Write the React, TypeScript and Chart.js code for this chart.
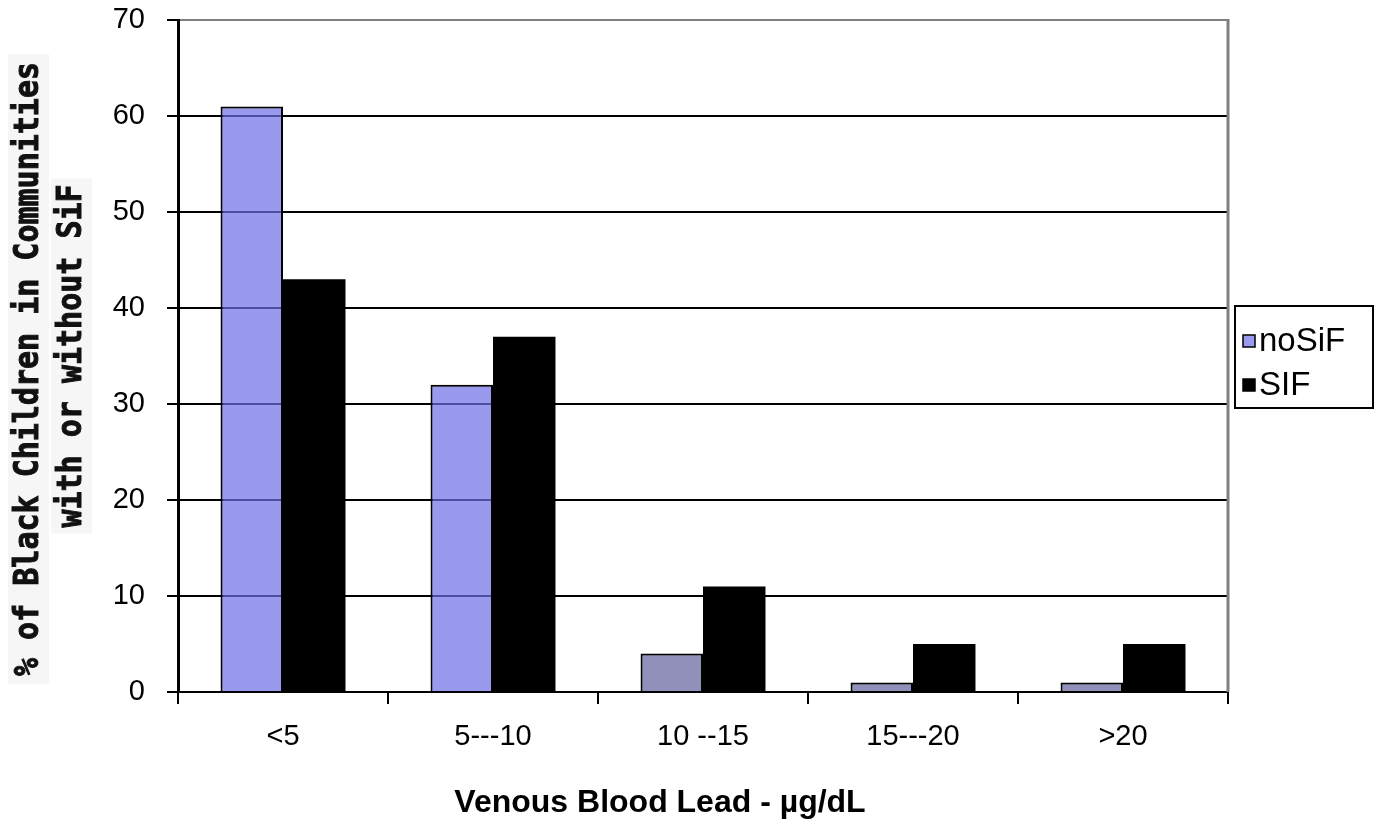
import { useEffect, useRef } from "react";
import { Chart, registerables } from "chart.js";

Chart.register(...registerables);

// Blood-lead bins and the share of children falling in each
const categories = ["<5", "5---10", "10 --15", "15---20", ">20"];
const noSiFValues = [61, 32, 4, 1, 1];
const sifValues = [43, 37, 11, 5, 5];
const seriesNames = ["noSiF", "SIF"];
const yTickValues = [0, 10, 20, 30, 40, 50, 60, 70];
const yTitleLines = ["% of Black Children in Communities", "with or without SiF"];
const xTitleText = "Venous Blood Lead - µg/dL";

const SANS = '"Liberation Sans", Arial, sans-serif';
const MONO = '"DejaVu Sans Mono", "Liberation Mono", monospace';

const NOSIF_LIGHT = "rgba(110,110,230,0.7)";
const NOSIF_DARK = "rgba(70,70,140,0.6)";
const NOSIF_SWATCH = "#9a9aee";

// Per-bar fill for the noSiF series: the low bins are shaded darker
const noSiFFills = noSiFValues.map((_, i) => (i < 2 ? NOSIF_LIGHT : NOSIF_DARK));

const framePlugin = {
  id: "frame",
  beforeDatasetsDraw(chart: any) {
    const { ctx, chartArea } = chart;
    ctx.save();
    ctx.strokeStyle = "#808080";
    ctx.lineWidth = 3;
    ctx.beginPath();
    ctx.moveTo(chartArea.right, chartArea.top - 1);
    ctx.lineTo(chartArea.right, chartArea.bottom);
    ctx.stroke();
    ctx.restore();
  },
};

// Two-line rotated axis title, each line on its own pale panel
const yTitlePlugin = {
  id: "yTitle",
  afterDraw(chart: any) {
    const { ctx } = chart;
    const boxes = [
      { cx: 28.5, cy: 369, w: 630, h: 41 },
      { cx: 71.5, cy: 356, w: 355, h: 41 },
    ];
    ctx.save();
    ctx.font = `bold 30px ${MONO}`;
    ctx.textAlign = "center";
    ctx.textBaseline = "middle";
    yTitleLines.forEach((line, i) => {
      const b = boxes[i];
      ctx.save();
      ctx.translate(b.cx, b.cy);
      ctx.rotate(-Math.PI / 2);
      ctx.fillStyle = "#f6f6f6";
      ctx.fillRect(-b.w / 2, -b.h / 2, b.w, b.h);
      // slightly taller, heavier glyphs for a blocky screen-font look
      ctx.scale(1, 1.12);
      ctx.fillStyle = "#111";
      ctx.strokeStyle = "#111";
      ctx.lineWidth = 0.9;
      ctx.fillText(line, 0, 1);
      ctx.strokeText(line, 0, 1);
      ctx.restore();
    });
    ctx.restore();
  },
};

const xTitlePlugin = {
  id: "xTitle",
  afterDraw(chart: any) {
    const { ctx } = chart;
    ctx.save();
    ctx.font = `bold 32px ${SANS}`;
    ctx.fillStyle = "#000";
    ctx.textAlign = "center";
    ctx.textBaseline = "middle";
    ctx.fillText(xTitleText, 660, 803);
    ctx.restore();
  },
};

const legendPlugin = {
  id: "boxLegend",
  afterDraw(chart: any) {
    const { ctx } = chart;
    const left = 1235;
    const top = 306;
    const width = 138;
    const height = 102;
    ctx.save();
    ctx.fillStyle = "#fff";
    ctx.fillRect(left, top, width, height);
    ctx.strokeStyle = "#000";
    ctx.lineWidth = 2;
    ctx.strokeRect(left, top, width, height);
    const fills = [NOSIF_SWATCH, "#000"];
    const rows = [top + 35, top + 79];
    ctx.font = `33px ${SANS}`;
    ctx.textBaseline = "middle";
    ctx.textAlign = "left";
    seriesNames.forEach((name, i) => {
      const y = rows[i];
      ctx.fillStyle = fills[i];
      ctx.fillRect(left + 8, y - 6, 12, 12);
      ctx.strokeStyle = "#000";
      ctx.lineWidth = 1.5;
      ctx.strokeRect(left + 8, y - 6, 12, 12);
      ctx.fillStyle = "#000";
      ctx.fillText(name, left + 24, y + 1);
    });
    ctx.restore();
  },
};

export default function App() {
  const canvasRef = useRef<HTMLCanvasElement | null>(null);

  useEffect(() => {
    const canvas = canvasRef.current;
    if (!canvas) return;
    const chart = new Chart(canvas, {
      type: "bar",
      data: {
        labels: categories,
        datasets: [
          {
            label: seriesNames[0],
            data: noSiFValues,
            backgroundColor: noSiFFills,
            borderColor: "#000",
            borderWidth: 2,
          },
          {
            label: seriesNames[1],
            data: sifValues,
            backgroundColor: "#000",
            borderColor: "#000",
            borderWidth: 0,
          },
        ],
      },
      options: {
        responsive: false,
        animation: false,
        devicePixelRatio: 1,
        layout: { padding: { top: 20, right: 153, bottom: 0, left: 0 } },
        datasets: {
          bar: { categoryPercentage: 0.595, barPercentage: 1 },
        },
        plugins: {
          legend: { display: false },
          tooltip: { enabled: false },
        },
        scales: {
          x: {
            grid: {
              offset: true,
              drawOnChartArea: false,
              drawTicks: true,
              tickLength: 12,
              color: "#000",
              lineWidth: 2,
            },
            border: { color: "#000", width: 2 },
            ticks: {
              color: "#000",
              padding: 16,
              font: { family: SANS, size: 29 },
              maxRotation: 0,
            },
            afterFit(scale: any) {
              scale.height = 132;
            },
          },
          y: {
            min: 0,
            max: 70,
            grid: {
              drawTicks: true,
              tickLength: 11,
              tickColor: "#000",
              lineWidth: 2,
              color: (c: any) => (c.tick && c.tick.value === 70 ? "#808080" : "#000"),
            },
            border: { color: "#000", width: 3 },
            ticks: {
              color: "#000",
              padding: 22,
              font: { family: SANS, size: 29 },
            },
            afterBuildTicks(scale: any) {
              scale.ticks = yTickValues.map((v) => ({ value: v }));
            },
            afterFit(scale: any) {
              scale.width = 178;
              scale.paddingTop = 0;
              scale.paddingBottom = 0;
            },
          },
        },
      },
      plugins: [framePlugin, yTitlePlugin, xTitlePlugin, legendPlugin],
    });
    return () => chart.destroy();
  }, []);

  return (
    <div style={{ position: "fixed", left: 0, top: 0, width: 1381, height: 824, background: "#fff" }}>
      <canvas ref={canvasRef} width={1381} height={824} style={{ display: "block" }} />
    </div>
  );
}
